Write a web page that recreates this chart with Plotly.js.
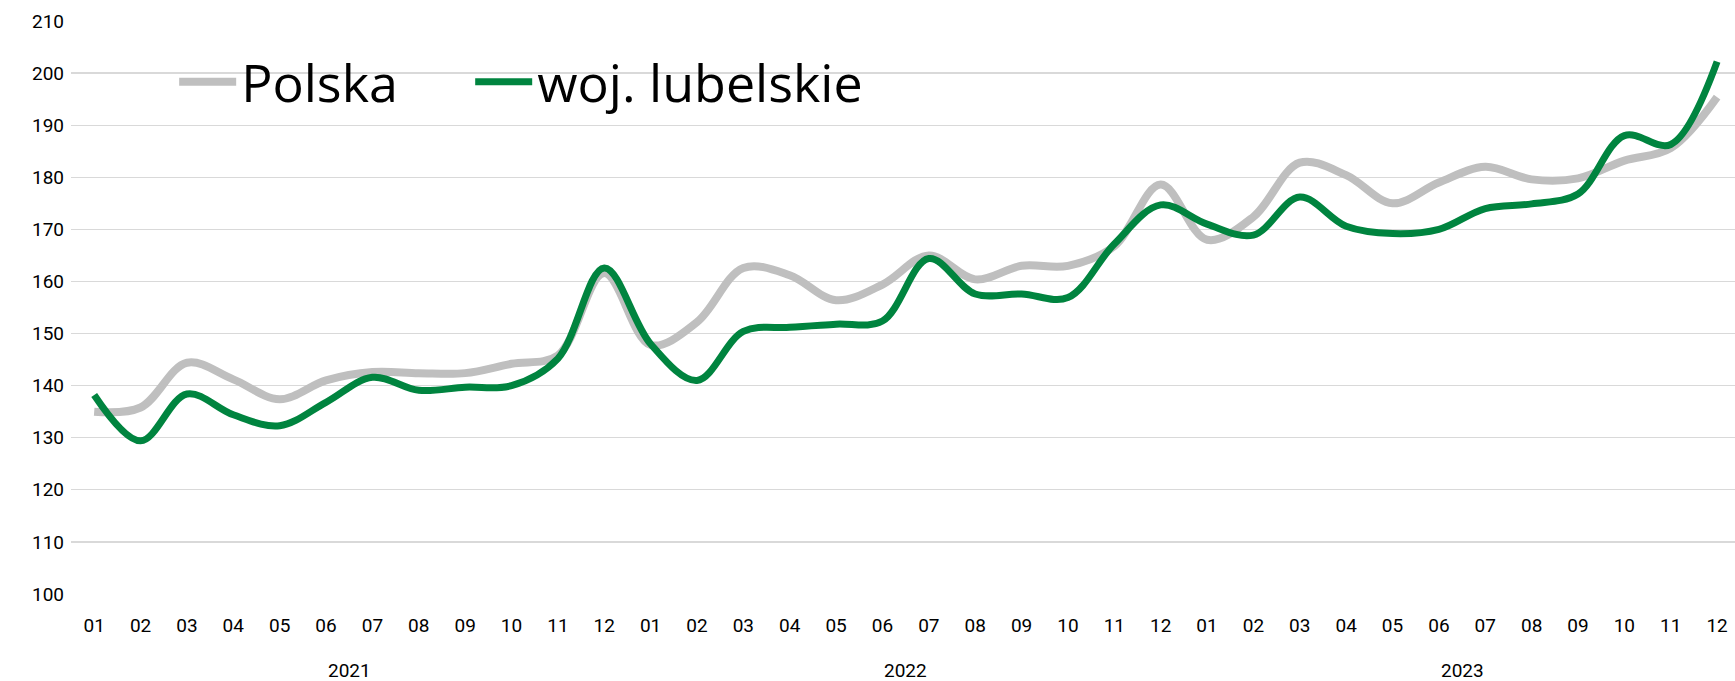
<!DOCTYPE html>
<html>
<head>
<meta charset="utf-8">
<script src="https://cdn.plot.ly/plotly-3.0.1.min.js"></script>
<style>
  html, body { margin: 0; padding: 0; background: #ffffff; }
  #chart { width: 1735px; height: 681px; }
</style>
</head>
<body>
<div id="chart"></div>
<script>
// ---- data ----
const months = ["01","02","03","04","05","06","07","08","09","10","11","12",
                "01","02","03","04","05","06","07","08","09","10","11","12",
                "01","02","03","04","05","06","07","08","09","10","11","12"];
const years = ["2021", "2022", "2023"];
const polska = [135.0, 135.8, 144.4, 141.2, 137.4, 141.0, 142.6, 142.4, 142.4, 144.2, 145.8, 161.6,
                147.8, 152.2, 162.6, 161.2, 156.4, 159.4, 165.0, 160.4, 163.0, 163.0, 166.8, 178.6,
                168.0, 172.4, 182.8, 180.4, 175.0, 179.0, 182.0, 179.6, 179.8, 183.2, 185.6, 195.4];
const lubelskie = [138.2, 129.4, 138.4, 134.4, 132.3, 136.8, 141.6, 139.1, 139.7, 140.0, 145.2, 162.6,
                   148.0, 141.0, 150.4, 151.2, 151.8, 152.4, 164.4, 157.6, 157.6, 156.9, 167.2, 174.7,
                   171.0, 168.9, 176.2, 170.6, 169.2, 170.0, 174.0, 174.9, 176.8, 188.0, 186.3, 202.2];
const seriesNames = ["Polska", "woj. lubelskie"];

const idx = months.map((m, i) => i);
const tickFont = "Roboto, Open Sans, sans-serif";
const legendFont = { family: "Open Sans, Noto Sans, sans-serif", size: 52, color: "#000000" };

const traces = [
  {
    x: idx, y: polska, name: seriesNames[0], type: "scatter", mode: "lines",
    line: { color: "#BFBFBF", width: 8, shape: "spline", smoothing: 1 },
    legend: "legend", hoverinfo: "skip"
  },
  {
    x: idx, y: lubelskie, name: seriesNames[1], type: "scatter", mode: "lines",
    line: { color: "#00843F", width: 7, shape: "spline", smoothing: 1 },
    legend: "legend2", hoverinfo: "skip"
  }
];

const annotations = years.map((yr, k) => ({
  x: k * 12 + 5.5, xref: "x", y: 0, yref: "paper", yshift: -76,
  text: yr, showarrow: false, xanchor: "center", yanchor: "middle",
  font: { family: tickFont, size: 19, color: "#000000" }
}));

const layout = {
  width: 1735, height: 681,
  margin: { l: 71, r: 0, t: 21, b: 87 },
  paper_bgcolor: "#ffffff", plot_bgcolor: "#ffffff",
  showlegend: true,
  legend: {
    orientation: "h", x: 0.062, xanchor: "left", y: 0.8935, yanchor: "middle",
    font: legendFont, itemwidth: 57, bgcolor: "rgba(0,0,0,0)"
  },
  legend2: {
    orientation: "h", x: 0.2399, xanchor: "left", y: 0.8935, yanchor: "middle",
    font: legendFont, itemwidth: 57, bgcolor: "rgba(0,0,0,0)"
  },
  xaxis: {
    range: [-0.5, 35.386], tickmode: "array", tickvals: idx, ticktext: months,
    showgrid: false, zeroline: false, showline: false, ticks: "",
    ticklabelstandoff: 18,
    tickfont: { family: tickFont, size: 19, color: "#000000" },
    fixedrange: true
  },
  yaxis: {
    range: [100, 210], dtick: 10, tick0: 100,
    showgrid: true, gridcolor: "#D9D9D9", gridwidth: 1.3,
    zeroline: false, showline: false, ticks: "",
    ticklabelstandoff: 6,
    tickfont: { family: tickFont, size: 19, color: "#000000" },
    fixedrange: true
  },
  annotations: annotations
};

Plotly.newPlot("chart", traces, layout, { displayModeBar: false, staticPlot: true });
</script>
</body>
</html>
